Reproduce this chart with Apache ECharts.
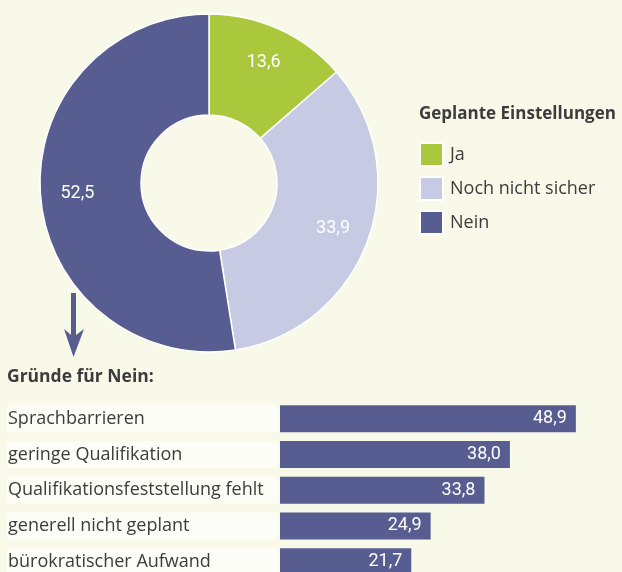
<!DOCTYPE html>
<html>
<head>
<meta charset="utf-8">
<script src="https://cdn.jsdelivr.net/npm/echarts@6/dist/echarts.min.js"></script>
<style>
html,body{margin:0;padding:0;background:#f9f9ea;}
#c{width:622px;height:572px;}
</style>
</head>
<body>
<div id="c"></div>
<script>
// Donut data
const pieNames = ['Ja', 'Noch nicht sicher', 'Nein'];
const pieValues = [13.6, 33.9, 52.5];
const pieColors = ['#abc73b', '#c6cae3', '#575d91'];

// Bar data
const reasons = ['Sprachbarrieren', 'geringe Qualifikation', 'Qualifikationsfeststellung fehlt', 'generell nicht geplant', 'bürokratischer Aufwand'];
const reasonValues = [48.9, 38.0, 33.8, 24.9, 21.7];

const FONT = '"Open Sans", "Noto Sans", sans-serif';
const fmt = v => v.toFixed(1).replace('.', ',');

const pieData = pieNames.map((n, i) => ({ name: n, value: pieValues[i], itemStyle: { color: pieColors[i] } }));

const chart = echarts.init(document.getElementById('c'), null, { renderer: 'canvas' });
chart.setOption({
  backgroundColor: '#f9f9ea',
  animation: false,
  textStyle: { fontFamily: FONT },
  title: [
    { text: 'Geplante Einstellungen', left: 419, top: 106, padding: 0, textStyle: { fontFamily: FONT, fontSize: 17, fontWeight: 'bold', color: '#3c3c3c' } },
    { text: 'Gründe für Nein:', left: 7, top: 368, padding: 0, textStyle: { fontFamily: FONT, fontSize: 17.5, fontWeight: 'bold', color: '#3c3c3c' } }
  ],
  legend: {
    data: pieNames,
    orient: 'vertical',
    left: 419, top: 142, padding: 0,
    icon: 'rect',
    itemWidth: 23, itemHeight: 23, itemGap: 9,
    textStyle: { fontFamily: FONT, fontSize: 18, lineHeight: 23, color: '#3c3c3c', padding: [0, 0, 0, 2] },
    selectedMode: false
  },
  grid: { left: 280, width: 302.5, top: 401, height: 178.5, containLabel: false, outerBoundsMode: 'none' },
  xAxis: { type: 'value', min: 0, max: 50, show: false },
  yAxis: {
    type: 'category', data: reasons, inverse: true,
    axisLine: { show: false }, axisTick: { show: false },
    axisLabel: {
      align: 'left', margin: 273,
      width: 270, height: 27, lineHeight: 27,
      backgroundColor: '#fdfdf7', padding: [0, 0, 0, 1],
      fontFamily: FONT, fontSize: 18, color: '#3c3c3c'
    }
  },
  series: [
    {
      type: 'pie', center: [209, 183], radius: [68, 169],
      startAngle: 90, clockwise: true, silent: true,
      itemStyle: { borderColor: '#ffffff', borderWidth: 1.5 },
      label: { show: false }, labelLine: { show: false },
      data: pieData
    },
    {
      type: 'pie', center: [209, 183], radius: [102, 156],
      startAngle: 90, clockwise: true, silent: true,
      itemStyle: { color: 'rgba(0,0,0,0)' },
      label: { show: true, position: 'inside', color: '#ffffff', fontFamily: 'Roboto, sans-serif', fontSize: 18,
               formatter: p => fmt(p.value) },
      labelLine: { show: false },
      data: pieNames.map((n, i) => ({ name: n, value: pieValues[i] })),
      legendHoverLink: false
    },
    {
      type: 'bar', data: reasonValues, barWidth: 27, silent: true,
      itemStyle: { color: '#575d91' },
      label: { show: true, position: 'insideRight', distance: 9, color: '#ffffff', fontFamily: 'Roboto, sans-serif', fontSize: 18,
               formatter: p => fmt(p.value) }
    }
  ],
  graphic: [
    { type: 'rect', shape: { x: 71, y: 293, width: 5, height: 46 }, style: { fill: '#575d91' } },
    { type: 'polygon', shape: { points: [[64, 329], [73.5, 337], [84, 329], [73.5, 357]] }, style: { fill: '#575d91' } }
  ]
});
</script>
</body>
</html>
